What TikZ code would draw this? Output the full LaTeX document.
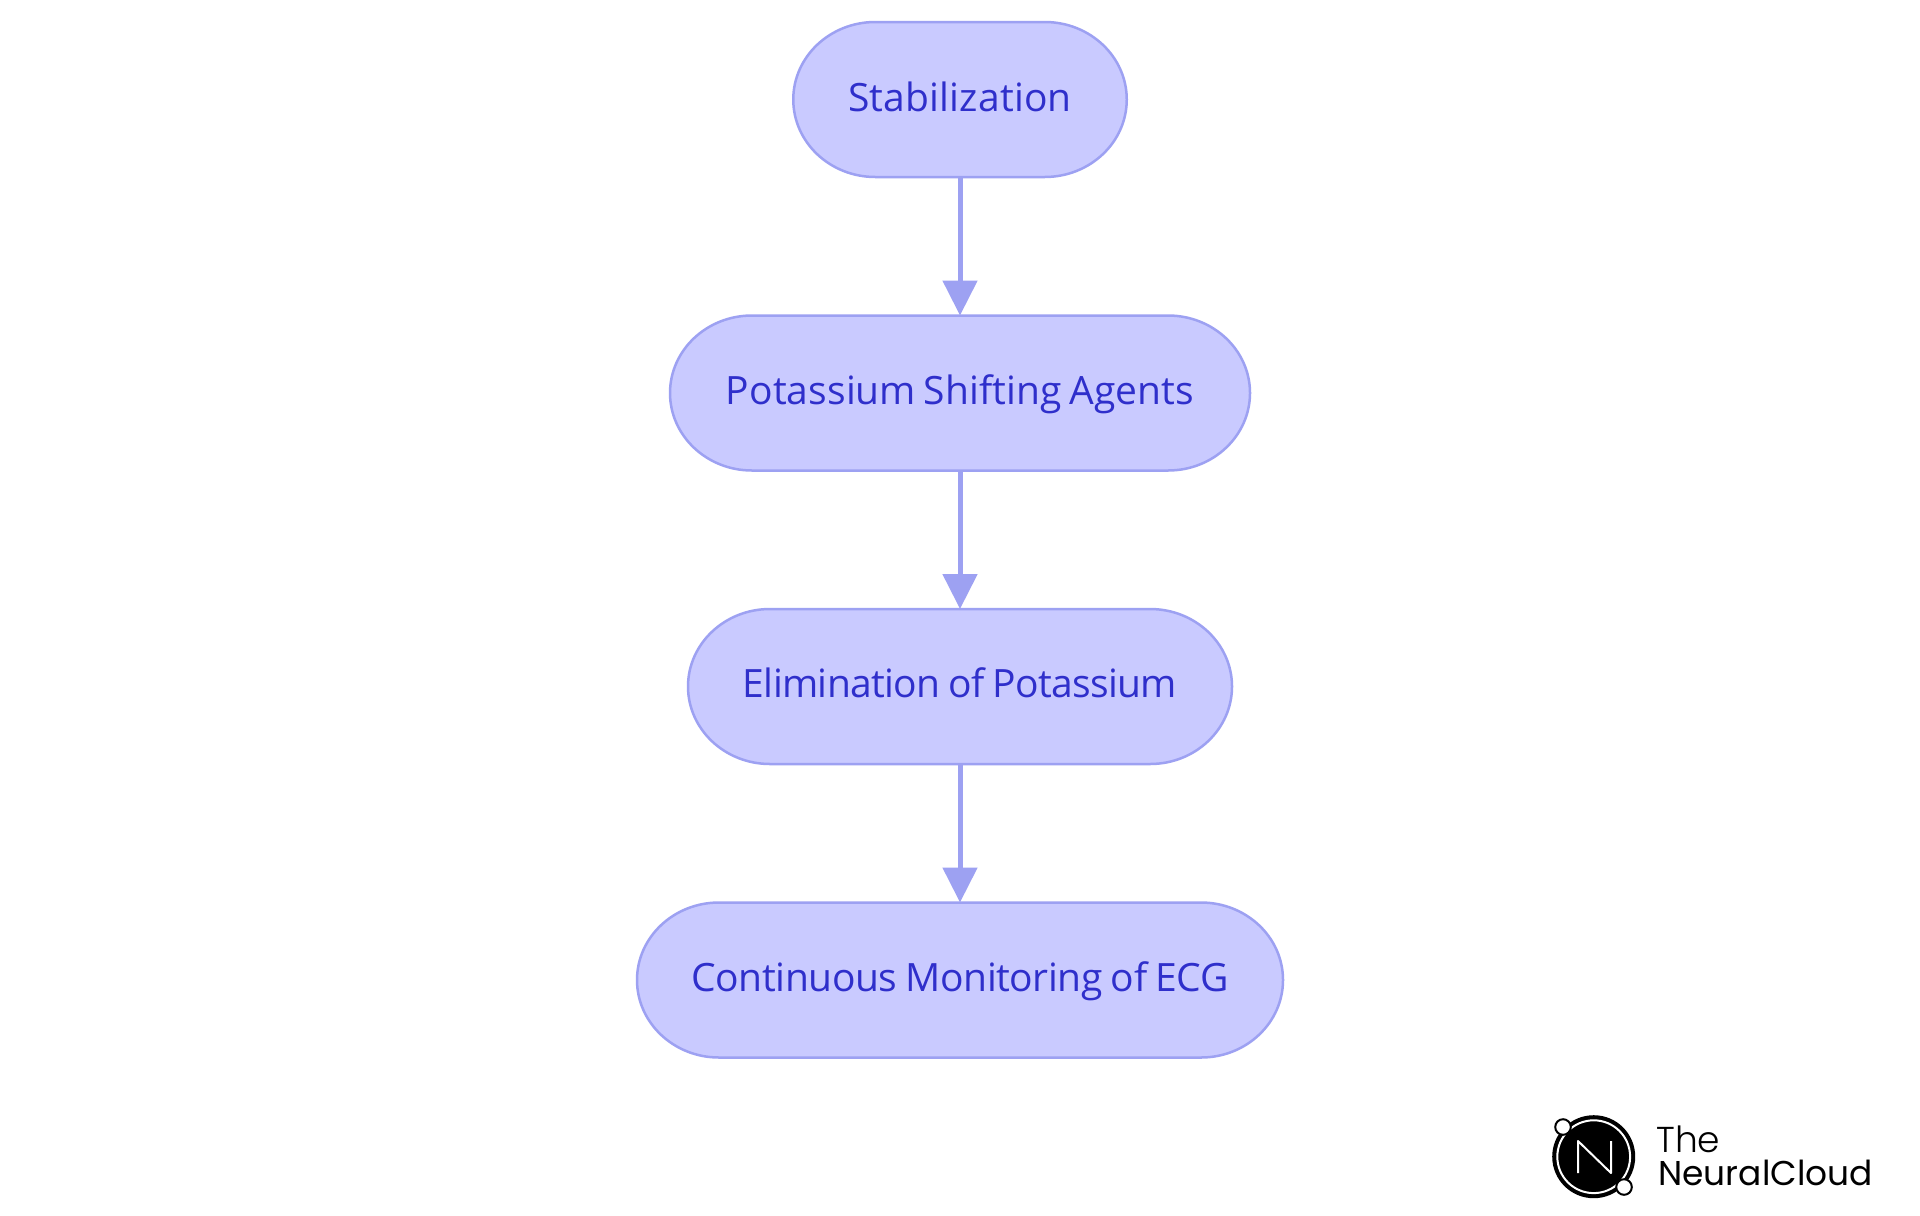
\documentclass[tikz,border=0pt]{standalone}
\usepackage{fontspec}
\setmainfont{Open Sans}[WordSpace=0.6]
\newfontfamily\fontA{Open Sans}[WordSpace=0.6,LetterSpace=0.5]
\newfontfamily\fontB{Open Sans}[WordSpace=0.75,LetterSpace=0.2]
\newfontfamily\fontC{Open Sans}[WordSpace=0.85,LetterSpace=-1.7]
\newfontfamily\fontD{Open Sans}[WordSpace=0.85,LetterSpace=-1.1]
\newfontfamily\logolight{Poppins Light}
\newfontfamily\logoreg{Poppins}
\usetikzlibrary{arrows.meta,backgrounds}
\definecolor{nodefill}{HTML}{C9CAFF}
\definecolor{nodeline}{HTML}{9DA1F2}
\definecolor{nodetext}{HTML}{2F2FCB}
\tikzset{
  stepbox/.style={minimum height=77.5pt,inner sep=0pt,outer sep=0pt,text=nodetext,
    text height=12pt,text depth=1pt,anchor=center},
  pill/.style={draw=nodeline,fill=nodefill,line width=1.25pt},
  flow/.style={draw=nodeline,line width=2.5pt,-{Triangle[length=17.5pt,width=17pt,fill=nodeline]}},
  logoword/.style={anchor=base west,inner sep=0pt,text=black}
}
\begin{document}
\begin{tikzpicture}[x=0.5pt,y=-0.5pt]
\useasboundingbox (0,0) rectangle (1920,1215);
\node[stepbox,text height=13pt,minimum width=166.75pt,font=\fontA\fontsize{19.5}{23}\selectfont] (a) at (960,99.5) {Stabilization};
\node[stepbox,minimum width=290pt,font=\fontB\fontsize{19.5}{23}\selectfont] (b) at (960,393) {Potassium Shifting Agents};
\node[stepbox,minimum width=272pt,font=\fontC\fontsize{19.5}{23}\selectfont] (c) at (960,686.5) {Elimination of Potassium};
\node[stepbox,minimum width=323pt,font=\fontD\fontsize{19.5}{23}\selectfont] (d) at (960,980) {Continuous Monitoring of ECG};
\begin{scope}[on background layer]
\fill[white] (0,0) rectangle (1920,1215);
\foreach \n in {a,b,c,d}{
  \draw[pill] ([xshift=41pt]\n.north west) -- ([xshift=-41pt]\n.north east)
    arc[start angle=90,end angle=-90,x radius=41pt,y radius=38.75pt]
    -- ([xshift=41pt]\n.south west)
    arc[start angle=270,end angle=90,x radius=41pt,y radius=38.75pt] -- cycle;
}
\end{scope}
\draw[flow] (a) -- (b);
\draw[flow] (b) -- (c);
\draw[flow] (c) -- (d);
% logo
\fill[black] (1593.7,1156.7) circle (20.75pt);
\draw[white,line width=1pt] (1593.7,1156.7) circle (18.2pt);
\draw[white,line width=1pt,line join=round] (1578,1173) -- (1578,1141) -- (1611,1173) -- (1611,1141);
\draw[black,fill=white,line width=1pt] (1563,1127) circle (3.9pt);
\draw[black,fill=white,line width=1pt] (1624,1187) circle (3.9pt);
\node[logoword,font=\logolight\fontsize{18}{20}\selectfont] (t1) at (1656,1152) {The};
\node[logoword,font=\logoreg\fontsize{17.2}{20}\selectfont] (t2) at (1658,1185) {NeuralCloud};
\end{tikzpicture}
\end{document}
